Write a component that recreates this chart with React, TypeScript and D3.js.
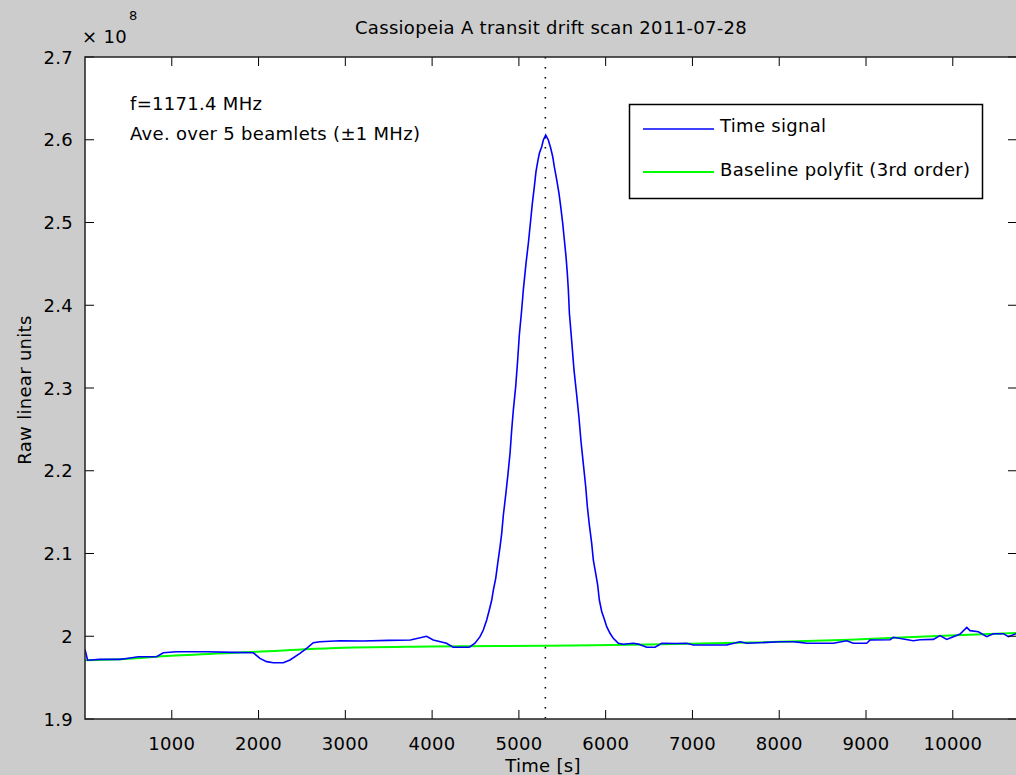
import React from "react";
import * as d3 from "d3";

const title = "Cassiopeia A transit drift scan 2011-07-28";
const xLabel = "Time [s]";
const yLabel = "Raw linear units";
const xTicks = [1000, 2000, 3000, 4000, 5000, 6000, 7000, 8000, 9000, 10000];
const yTicks = [1.9, 2.0, 2.1, 2.2, 2.3, 2.4, 2.5, 2.6, 2.7];
const xDomain = [0, 10740];
const yDomain = [1.9, 2.7];
const annotations = ["f=1171.4 MHz", "Ave. over 5 beamlets (\u00b11 MHz)"];
const legendLabels = ["Time signal", "Baseline polyfit (3rd order)"];
const transitTime = 5305;

// Time signal (units of 1e8)
const signalT = [
  0, 30, 173, 403, 500, 614, 826, 902, 1056, 1402, 1700, 1939, 2016, 2093, 2170, 2285, 2362, 2477, 2554, 2631,
  2707, 2938, 3200, 3500, 3750, 3936, 4013, 4166, 4243, 4420, 4437, 4494, 4552, 4590, 4629, 4659, 4687, 4706,
  4733, 4756, 4783, 4802, 4821, 4848, 4871, 4898, 4917, 4936, 4963, 4986, 5005, 5032, 5051, 5082, 5109, 5136,
  5155, 5178, 5197, 5217, 5236, 5263, 5282, 5309, 5339, 5367, 5390, 5408, 5436, 5462, 5482, 5505, 5524, 5543,
  5558, 5570, 5582, 5609, 5635, 5666, 5693, 5716, 5742, 5770, 5789, 5812, 5839, 5858, 5885, 5908, 5927, 5955,
  5981, 6012, 6050, 6088, 6146, 6203, 6319, 6376, 6473, 6569, 6646, 6819, 6934, 7010, 7395, 7548, 7625, 7856,
  8009, 8163, 8240, 8317, 8623, 8778, 8854, 9008, 9046, 9277, 9315, 9545, 9622, 9776, 9853, 9930, 10006, 10084,
  10161, 10199, 10295, 10391, 10467, 10583, 10640, 10729,
];
const signalV = [
  1.984, 1.971, 1.9721, 1.9721, 1.9735, 1.9752, 1.9752, 1.9801, 1.9813, 1.9813, 1.9805, 1.98, 1.9733, 1.9693,
  1.968, 1.968, 1.9713, 1.9794, 1.9854, 1.9922, 1.9934, 1.9946, 1.9942, 1.995, 1.9955, 1.9999, 1.9955, 1.9915,
  1.9867, 1.9867, 1.9874, 1.9915, 1.9995, 2.0075, 2.0196, 2.0317, 2.0438, 2.0559, 2.07, 2.0881, 2.1082, 2.1244,
  2.1465, 2.1707, 2.1928, 2.2211, 2.2492, 2.2734, 2.3016, 2.3338, 2.364, 2.3943, 2.4184, 2.4507, 2.4749, 2.503,
  2.5232, 2.5433, 2.5614, 2.5735, 2.5836, 2.5916, 2.5997, 2.6057, 2.5997, 2.5897, 2.5795, 2.5674, 2.5514, 2.5353,
  2.5191, 2.499, 2.4789, 2.4587, 2.4386, 2.4184, 2.3903, 2.356, 2.3218, 2.2915, 2.2634, 2.2351, 2.209, 2.1807,
  2.1566, 2.1344, 2.1123, 2.0921, 2.0761, 2.0619, 2.0438, 2.0297, 2.0217, 2.0115, 2.0036, 1.9975, 1.9915, 1.9903,
  1.9915, 1.9905, 1.9867, 1.9867, 1.9915, 1.9912, 1.9915, 1.9894, 1.9894, 1.9934, 1.9915, 1.9926, 1.9934, 1.9934,
  1.9926, 1.9915, 1.9915, 1.9946, 1.9915, 1.9915, 1.9954, 1.9958, 1.9987, 1.9946, 1.9958, 1.9962, 2.0007, 1.9962,
  1.9995, 2.0027, 2.0108, 2.0068, 2.0055, 1.9995, 2.0031, 2.0031, 1.9995, 2.0031,
];

// Baseline polyfit
const baseT = [0, 403, 991, 1982, 2823, 3976, 5301, 6511, 7663, 8816, 9968, 10740];
const baseV = [1.9709, 1.9721, 1.9764, 1.9812, 1.9855, 1.9875, 1.9886, 1.99, 1.9924, 1.9958, 2.0009, 2.0039];

const W = 1016;
const H = 775;
const L = 85;
const R = 1017;
const T = 57;
const B = 719;
const FONT = "'DejaVu Sans', sans-serif";
const FS = 18;
const LS = 0.3;

export default function App() {
  const x = d3.scaleLinear().domain(xDomain).range([L, R]);
  const y = d3.scaleLinear().domain(yDomain).range([B, T]);
  const line = d3
    .line<number>()
    .x((_, i) => x(signalT[i]))
    .y((v) => y(v));
  const baseLine = d3
    .line<number>()
    .x((_, i) => x(baseT[i]))
    .y((v) => y(v))
    .curve(d3.curveMonotoneX);
  const tickLen = 9;
  const fmtY = (v: number) => (Math.abs(v - 2) < 1e-9 ? "2" : d3.format(".1f")(v));

  return (
    <svg
      width={W}
      height={H}
      style={{ position: "fixed", left: 0, top: 0, display: "block" }}
      fontFamily={FONT}
      letterSpacing={LS}
    >
      <rect x={0} y={0} width={W} height={H} fill="#cccccc" />
      <defs>
        <clipPath id="plotclip">
          <rect x={L} y={T} width={R - L} height={B - T} />
        </clipPath>
      </defs>
      <rect x={L} y={T} width={R - L} height={B - T} fill="#ffffff" />

      <g clipPath="url(#plotclip)">
        <line
          x1={x(transitTime)}
          x2={x(transitTime)}
          y1={T}
          y2={B}
          stroke="#000"
          strokeWidth={1.6}
          strokeDasharray="1.6 8.4"
        />
        <path d={baseLine(baseV) || ""} fill="none" stroke="#00ff00" strokeWidth={2} />
        <path d={line(signalV) || ""} fill="none" stroke="#0000ff" strokeWidth={1.6} />
      </g>

      {/* ticks */}
      <g stroke="#000" strokeWidth={1}>
        {xTicks.map((t) => (
          <g key={"xt" + t}>
            <line x1={x(t)} x2={x(t)} y1={B} y2={B - tickLen} />
            <line x1={x(t)} x2={x(t)} y1={T} y2={T + tickLen} />
          </g>
        ))}
        {yTicks.map((t) => (
          <g key={"yt" + t}>
            <line x1={L} x2={L + tickLen} y1={y(t)} y2={y(t)} />
            <line x1={R} x2={R - tickLen} y1={y(t)} y2={y(t)} />
          </g>
        ))}
      </g>
      <rect x={L} y={T} width={R - L} height={B - T} fill="none" stroke="#222" strokeWidth={1.5} />

      {/* tick labels */}
      <g fontSize={FS} fill="#000">
        {xTicks.map((t) => (
          <text key={"xl" + t} x={x(t)} y={750} textAnchor="middle">
            {t}
          </text>
        ))}
        {yTicks.map((t) => (
          <text key={"yl" + t} x={73} y={y(t) + 6.5} textAnchor="end">
            {fmtY(t)}
          </text>
        ))}
      </g>

      {/* exponent */}
      <text x={82} y={43} fontSize={FS} fill="#000">
        × 10
      </text>
      <text x={129} y={20} fontSize={13} fill="#000">
        8
      </text>

      {/* title and axis labels */}
      <text x={551} y={34} fontSize={FS} textAnchor="middle" fill="#000">
        {title}
      </text>
      <text x={543} y={772} fontSize={FS} textAnchor="middle" fill="#000">
        {xLabel}
      </text>
      <text transform={`translate(31, 390) rotate(-90)`} fontSize={FS} textAnchor="middle" fill="#000">
        {yLabel}
      </text>

      {/* annotations */}
      {annotations.map((a, i) => (
        <text key={a} x={130} y={110 + i * 30} fontSize={FS} fill="#000">
          {a}
        </text>
      ))}

      {/* legend */}
      <g>
        <rect x={629.5} y={104.5} width={353} height={94} fill="#fff" stroke="#000" strokeWidth={1.5} />
        <line x1={643} x2={714} y1={129} y2={129} stroke="#0000ff" strokeWidth={1.6} />
        <line x1={643} x2={714} y1={172} y2={172} stroke="#00ff00" strokeWidth={2} />
        <text x={720} y={132} fontSize={FS} fill="#000">
          {legendLabels[0]}
        </text>
        <text x={720} y={176} fontSize={FS} fill="#000">
          {legendLabels[1]}
        </text>
      </g>
    </svg>
  );
}
